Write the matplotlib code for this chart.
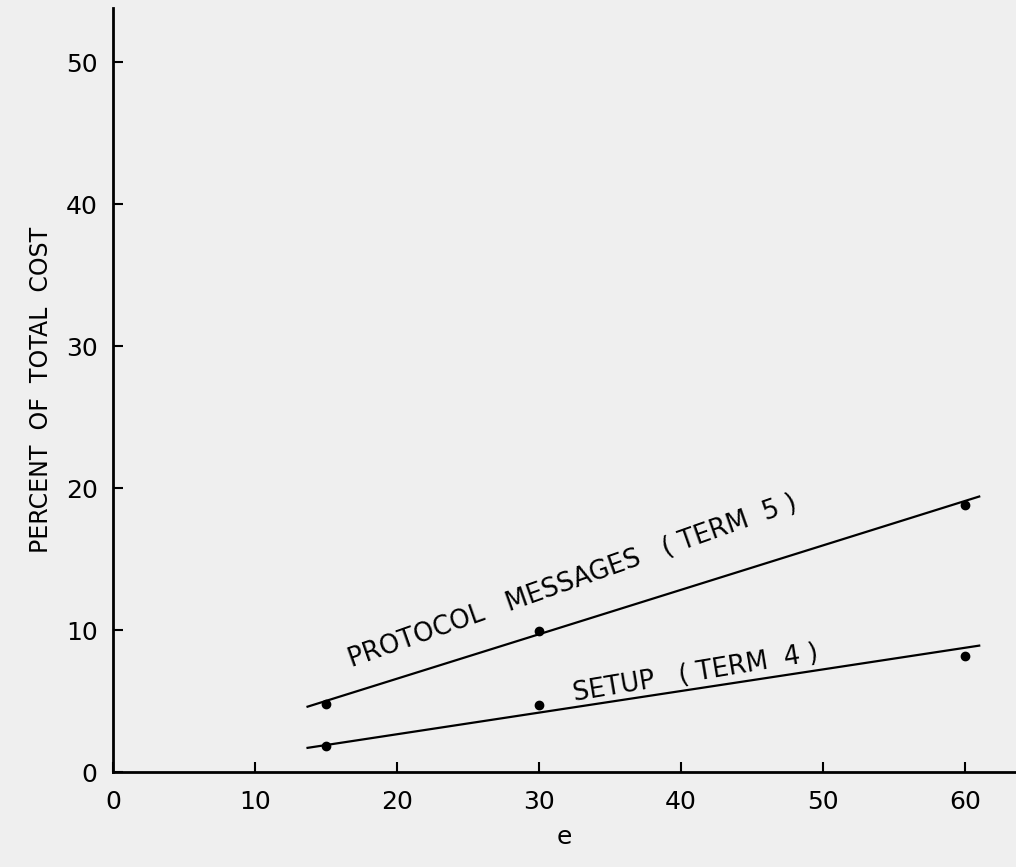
import numpy as np
import matplotlib.pyplot as plt

# measured points
e_vals = [15, 30, 60]
protocol_pts = [4.8, 9.9, 18.8]
setup_pts = [1.8, 4.7, 8.2]

# hand-drawn fit lines (endpoints)
line_x = [13.7, 61.0]
protocol_line = [4.6, 19.4]
setup_line = [1.7, 8.9]

xticks = [0, 10, 20, 30, 40, 50, 60]
yticks = [0, 10, 20, 30, 40, 50]

bg = '#efefef'
fig = plt.figure(figsize=(10.16, 8.67), dpi=100, facecolor=bg)
ax = fig.add_axes([113/1016, 95/867, 903/1016, 764/867], facecolor=bg)

ax.plot(line_x, protocol_line, color='black', lw=1.6)
ax.plot(line_x, setup_line, color='black', lw=1.6)
ax.plot(e_vals, protocol_pts, 'o', color='black', ms=6)
ax.plot(e_vals, setup_pts, 'o', color='black', ms=6)

ax.set_xlim(0, 903/14.2)
ax.set_ylim(0, 764/14.2)
ax.set_xticks(xticks)
ax.set_yticks(yticks)
ax.tick_params(direction='in', length=7, width=1.5, labelsize=18)
ax.tick_params(axis='x', pad=13)
ax.tick_params(axis='y', pad=11)
for s in ['top', 'right']:
    ax.spines[s].set_visible(False)
for s in ['left', 'bottom']:
    ax.spines[s].set_linewidth(2)

ax.text(32.4, 13.4, 'PROTOCOL   MESSAGES   ( TERM  5 )', rotation=19.5,
        ha='center', va='center', fontsize=18.5, rotation_mode='anchor')
ax.text(41, 6.9, 'SETUP   ( TERM  4 )', rotation=9.5,
        ha='center', va='center', fontsize=18.5, rotation_mode='anchor')

ax.set_ylabel('PERCENT  OF  TOTAL  COST', fontsize=17, labelpad=9)
ax.set_xlabel('e', fontsize=18, labelpad=8)

fig.savefig('out.png', dpi=100, facecolor=bg)
